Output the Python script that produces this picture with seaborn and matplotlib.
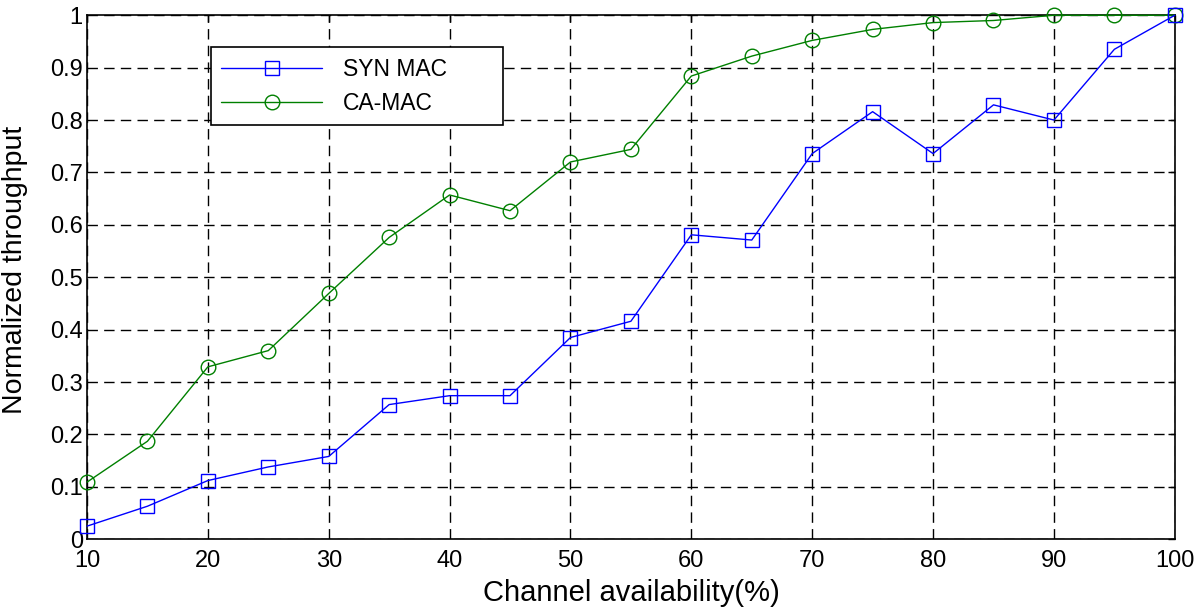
import pandas as pd
import matplotlib
matplotlib.use('Agg')
import matplotlib.pyplot as plt
import seaborn as sns

# Dados
channel_availability = [10, 15, 20, 25, 30, 35, 40, 45, 50, 55, 60, 65, 70, 75, 80, 85, 90, 95, 100]
syn_mac = [0.025, 0.063, 0.112, 0.138, 0.158, 0.257, 0.274, 0.274, 0.385, 0.416,
           0.581, 0.571, 0.736, 0.816, 0.736, 0.829, 0.800, 0.935, 1.0]
ca_mac = [0.109, 0.187, 0.329, 0.360, 0.469, 0.576, 0.657, 0.627, 0.720, 0.744,
          0.884, 0.922, 0.952, 0.973, 0.986, 0.990, 1.0, 1.0, 1.0]
x_ticks = [10, 20, 30, 40, 50, 60, 70, 80, 90, 100]
y_ticks = [0, 0.1, 0.2, 0.3, 0.4, 0.5, 0.6, 0.7, 0.8, 0.9, 1]
y_tick_labels = ['0', '0.1', '0.2', '0.3', '0.4', '0.5', '0.6', '0.7', '0.8', '0.9', '1']

df = pd.DataFrame({'x': channel_availability, 'SYN MAC': syn_mac, 'CA-MAC': ca_mac})

sns.set_style('white')
plt.rcParams['font.family'] = ['Liberation Sans', 'DejaVu Sans']
plt.rcParams['text.color'] = 'black'
plt.rcParams['axes.labelcolor'] = 'black'

fig = plt.figure(figsize=(12, 6.1), dpi=100)
ax = fig.add_axes([0.0725, 0.116, 0.9065, 0.859])

# Séries
sns.lineplot(data=df, x='x', y='SYN MAC', ax=ax, color='#0000ff', marker='s',
             markersize=10, mfc='none', mec='#0000ff', mew=1.0, lw=1.0,
             label='SYN MAC', clip_on=False, zorder=4)
sns.lineplot(data=df, x='x', y='CA-MAC', ax=ax, color='#008000', marker='o',
             markersize=10.5, mfc='none', mec='#008000', mew=1.0, lw=1.0,
             label='CA-MAC', clip_on=False, zorder=3)

ax.set_xlim(10, 100)
ax.set_ylim(0, 1)
ax.set_xticks(x_ticks)
ax.set_yticks(y_ticks)
ax.set_yticklabels(y_tick_labels)

# Grade tracejada estilo MATLAB
ax.grid(True, color='black', linestyle=(0, (7.5, 4.5)), linewidth=1.0)
ax.set_axisbelow(True)

for spine in ax.spines.values():
    spine.set_visible(True)
    spine.set_color('black')
    spine.set_linewidth(1.2)

ax.tick_params(axis='both', direction='in', length=5, width=1, colors='black',
               labelsize=17, top=True, right=True)
ax.tick_params(axis='x', pad=8)
ax.tick_params(axis='y', pad=3)

ax.set_xlabel('Channel availability(%)', fontsize=21, labelpad=5)
ax.set_ylabel('Normalized throughput', fontsize=20.5)
ax.yaxis.set_label_coords(-0.054, 0.515)

leg = ax.legend(loc='upper left', bbox_to_anchor=(0.114, 0.0, 0.268, 0.939),
                mode='expand', borderaxespad=0,
                fontsize=16.5, frameon=True, fancybox=False, edgecolor='black',
                framealpha=1, handlelength=4.4, handletextpad=0.9,
                borderpad=0.45, labelspacing=0.5)
leg.get_frame().set_linewidth(1.2)

plt.savefig('out.png', dpi=100)
